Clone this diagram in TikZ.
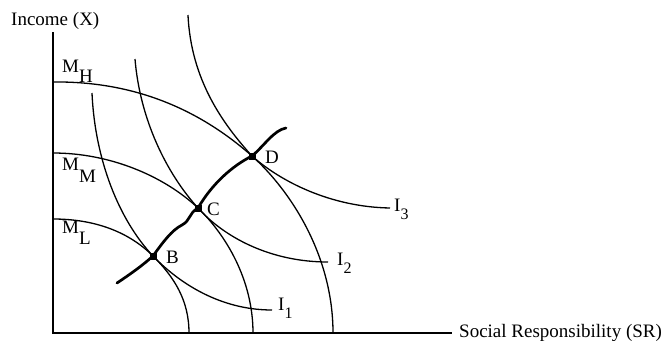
\documentclass[tikz,border=0pt]{standalone}
\usepackage{fontspec}
\setmainfont{Liberation Serif}
\begin{document}
\begin{tikzpicture}[x=1pt,y=-1pt,
  curve/.style={line width=1.3pt},
  axis/.style={line width=1.5pt},
  epath/.style={line width=2.7pt,line cap=round,line join=round},
  dot/.style={rectangle,fill=black,inner sep=0pt,minimum size=7pt},
  lbl/.style={inner sep=0pt,anchor=base west,font=\fontsize{19}{21}\selectfont}]
\useasboundingbox (0,0) rectangle (666,340);
% axes
\coordinate (O) at (53,333);
\coordinate (ytop) at (53,32);
\coordinate (xend) at (452,333);
\draw[axis] (ytop) -- (O) -- (xend);
\node[lbl] (ylab) at (11,25) {Income (X)};
\node[lbl] (xlab) at (459,337) {Social Responsibility (SR)};
% key points
\coordinate (B) at (153,256);
\coordinate (C) at (198,208);
\coordinate (D) at (252,156);
% M curves
\coordinate (mh0) at (53,82);  \coordinate (mh1) at (333,333);
\coordinate (mm0) at (53,153); \coordinate (mm1) at (253,333);
\coordinate (ml0) at (53,219); \coordinate (ml1) at (189,333);
\draw[curve] (mh0) .. controls (135,81) and (200,110) .. (D)
  .. controls (290,190) and (333,255) .. (mh1);
\draw[curve] (mm0) .. controls (110,153) and (164,176) .. (C)
  .. controls (226,235) and (253,280) .. (mm1);
\draw[curve] (ml0) .. controls (95,219) and (129,232) .. (B)
  .. controls (174,277) and (189,300) .. (ml1);
% I curves
\coordinate (i30) at (188,15);  \coordinate (i31) at (390,208);
\coordinate (i20) at (135,59);  \coordinate (i21) at (328,262);
\coordinate (i10) at (92,93);   \coordinate (i11) at (272,310);
\draw[curve] (i30) .. controls (191,80) and (223,124) .. (D)
  .. controls (280,181) and (330,207) .. (i31);
\draw[curve] (i20) .. controls (140,120) and (167,174) .. (C)
  .. controls (224,237) and (270,262) .. (i21);
\draw[curve] (i10) .. controls (95,160) and (119,220) .. (B)
  .. controls (179,283) and (220,310) .. (i11);
% expansion path
\coordinate (e0) at (117,283);
\coordinate (e1) at (286,128);
\coordinate (w) at (182,225);
\draw[epath] (e0) .. controls (132,273) and (143,265) .. (B)
  .. controls (163,242) and (172,230) .. (w)
  .. controls (191,220) and (188,214) .. (C)
  .. controls (212,184) and (232,166) .. (D)
  .. controls (264,146) and (274,130) .. (e1);
\node[dot] (dB) at (B) {};
\node[dot] (dC) at (C) {};
\node[dot] (dD) at (D) {};
% labels
\node[lbl] (lB) at (166,263) {B};
\node[lbl] (lC) at (207,215) {C};
\node[lbl] (lD) at (265,163) {D};
\node[lbl] (lMH) at (62,72) {M\raisebox{-10pt}{H}};
\node[lbl] (lMM) at (62,170) {M\raisebox{-12pt}{M}};
\node[lbl] (lML) at (62,233) {M\raisebox{-11pt}{L}};
\node[lbl] (lI3) at (394,211) {I\raisebox{-8pt}{\fontsize{16}{16}\selectfont 3}};
\node[lbl] (lI2) at (337,265) {I\raisebox{-8pt}{\fontsize{16}{16}\selectfont 2}};
\node[lbl] (lI1) at (278,310) {I\raisebox{-8pt}{\fontsize{16}{16}\selectfont 1}};
\end{tikzpicture}
\end{document}
